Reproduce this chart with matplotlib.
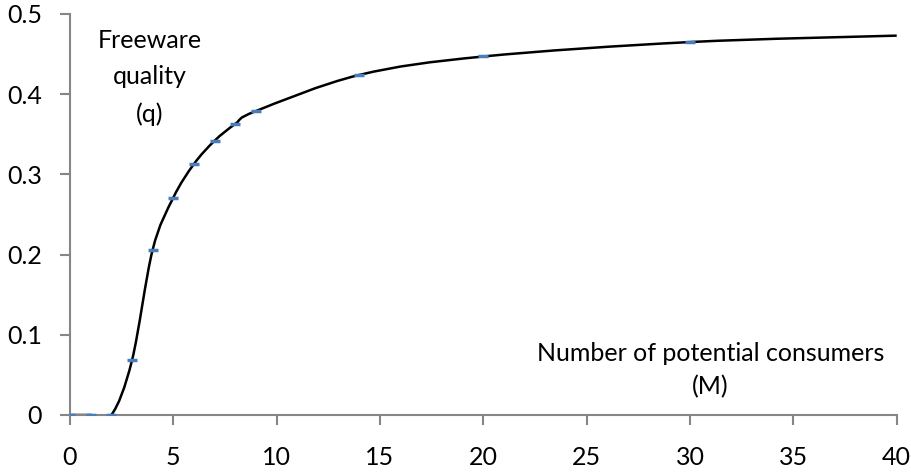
import numpy as np
import matplotlib.pyplot as plt
from matplotlib.path import Path
from matplotlib.patches import PathPatch

plt.rcParams['font.family'] = ['Lato', 'DejaVu Sans']

# data
consumers = [0, 1, 2, 3, 4, 5, 6, 7, 8, 9, 14, 20, 30, 40]
quality = [0, 0, 0, 0.068, 0.206, 0.271, 0.313, 0.342, 0.363, 0.379, 0.424, 0.447, 0.465, 0.473]
x_ticks = [0, 5, 10, 15, 20, 25, 30, 35, 40]
y_ticks = [0, 0.1, 0.2, 0.3, 0.4, 0.5]
y_labels = ['0', '0.1', '0.2', '0.3', '0.4', '0.5']

fig = plt.figure(figsize=(9.11, 4.74), dpi=100)
ax = fig.add_axes([0.0768, 0.1245, 0.9075, 0.846])

# smoothed line like excel (bezier through the points)
pts = np.column_stack([consumers, quality]).astype(float)
verts = [tuple(pts[0])]
codes = [Path.MOVETO]
n = len(pts)
for i in range(n - 1):
    p0 = pts[i - 1] if i > 0 else pts[i]
    p1 = pts[i]
    p2 = pts[i + 1]
    p3 = pts[i + 2] if i + 2 < n else pts[i + 1]
    c1 = p1 + (p2 - p0) / 6
    c2 = p2 - (p3 - p1) / 6
    verts += [tuple(c1), tuple(c2), tuple(p2)]
    codes += [Path.CURVE4] * 3
ax.add_patch(PathPatch(Path(verts, codes), facecolor='none', edgecolor='black', lw=1.8, zorder=2))

ax.plot(consumers[:-1], quality[:-1], ls='none', marker='_', ms=7, mew=2.5, color='#4a7ebb', zorder=3)

ax.set_xlim(0, 40)
ax.set_ylim(0, 0.5)
ax.set_xticks(x_ticks)
ax.set_yticks(y_ticks)
ax.set_yticklabels(y_labels)
for s in ['top', 'right']:
    ax.spines[s].set_visible(False)
for s in ['left', 'bottom']:
    ax.spines[s].set_color('#868686')
    ax.spines[s].set_linewidth(1.5)
ax.tick_params(colors='#868686', labelcolor='black', length=7, width=1.5, labelsize=18)
ax.tick_params(axis='x', pad=15)
ax.tick_params(axis='y', pad=13)

ax.text(3.87, 0.421, 'Freeware\nquality\n(q)', ha='center', va='center', fontsize=18, linespacing=1.7)
ax.text(31.0, 0.056, 'Number of potential consumers\n(M)', ha='center', va='center', fontsize=18, linespacing=1.5)

fig.savefig('out.png', dpi=100)
